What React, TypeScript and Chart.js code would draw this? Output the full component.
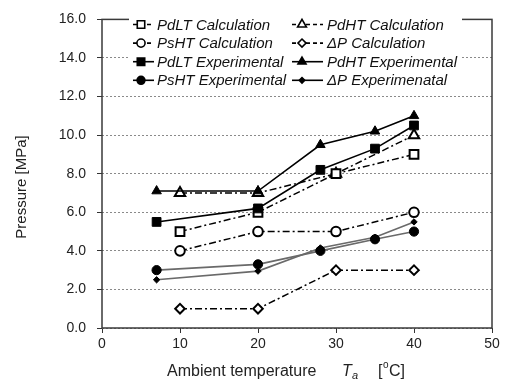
import React, { useEffect, useRef } from 'react';
import { Chart, registerables } from 'chart.js';
import { drawPoint } from 'chart.js/helpers';
Chart.register(...registerables);

const calcTemps = [10, 20, 30, 40];
const expTemps = [7, 20, 28, 35, 40];

const pdltCalc = [5.0, 6.0, 8.0, 9.0];
const pdhtCalc = [7.0, 7.0, 8.0, 10.0];
const pshtCalc = [4.0, 5.0, 5.0, 6.0];
const dpCalc = [1.0, 1.0, 3.0, 3.0];

const pdltExp = [5.5, 6.2, 8.2, 9.3, 10.5];
const pdhtExp = [7.1, 7.1, 9.5, 10.2, 11.0];
const pshtExp = [3.0, 3.3, 4.0, 4.6, 5.0];
const dpExp = [2.5, 2.95, 4.15, 4.7, 5.5];

const seriesLabels = [
  'PdLT Calculation', 'PdHT Calculation',
  'PsHT Calculation', 'ΔP Calculation',
  'PdLT Experimental', 'PdHT Experimental',
  'PsHT Experimental', 'ΔP Experimenatal',
];

const xTicks = [0, 10, 20, 30, 40, 50];
const yTicks = [0, 2, 4, 6, 8, 10, 12, 14, 16];

const FONT = '"Liberation Sans", Arial, sans-serif';
const DASH = [7, 3, 2, 3];

const pts = (xs: number[], ys: number[]) => xs.map((x, i) => ({ x, y: ys[i] }));

const frameAndLegend = {
  id: 'frameAndLegend',
  afterDraw(chart: any) {
    const { ctx, chartArea: a } = chart;
    ctx.save();
    // frame
    ctx.strokeStyle = '#3a3a3a';
    ctx.lineWidth = 1.5;
    ctx.setLineDash([]);
    ctx.strokeRect(a.left, a.top, a.right - a.left, a.bottom - a.top);

    // legend box
    ctx.fillStyle = '#ffffff';
    ctx.fillRect(129, 15, 333, 74);

    const ds = chart.data.datasets;
    const cols = [
      { x0: 133, xm: 141, x1: 154, xt: 157 },
      { x0: 292, xm: 302, x1: 323, xt: 327 },
    ];
    for (let i = 0; i < ds.length; i++) {
      const d = ds[i];
      const c = cols[i % 2];
      const y = 24.5 + Math.floor(i / 2) * 18.6;
      ctx.save();
      ctx.strokeStyle = '#000';
      ctx.lineWidth = 1.6;
      ctx.setLineDash(d.borderDash && d.borderDash.length ? [4, 3] : []);
      ctx.beginPath();
      ctx.moveTo(c.x0, y);
      ctx.lineTo(c.x1, y);
      ctx.stroke();
      ctx.setLineDash([]);
      ctx.fillStyle = d.pointBackgroundColor;
      ctx.strokeStyle = d.pointBorderColor;
      drawPoint(ctx, { pointStyle: d.pointStyle, radius: d.pointRadius * 0.85, rotation: 0, borderWidth: d.pointBorderWidth }, c.xm, y);
      ctx.restore();
      ctx.fillStyle = '#111';
      ctx.font = 'italic 15px ' + FONT;
      ctx.textBaseline = 'middle';
      ctx.textAlign = 'left';
      ctx.fillText(d.label, c.xt, y + 1);
    }

    // y title
    ctx.fillStyle = '#222';
    ctx.save();
    ctx.translate(22, 187);
    ctx.rotate(-Math.PI / 2);
    ctx.font = '15px ' + FONT;
    ctx.textAlign = 'center';
    ctx.textBaseline = 'middle';
    ctx.fillText('Pressure [MPa]', 0, 0);
    ctx.restore();

    // x title
    ctx.textBaseline = 'alphabetic';
    ctx.textAlign = 'left';
    const by = 376;
    ctx.font = '16px ' + FONT;
    ctx.fillText('Ambient temperature', 167, by);
    ctx.font = 'italic 16px ' + FONT;
    ctx.fillText('T', 342, by);
    ctx.font = 'italic 11px ' + FONT;
    ctx.fillText('a', 352, by + 3);
    ctx.font = '16px ' + FONT;
    ctx.fillText('[', 378, by);
    ctx.font = '10px ' + FONT;
    ctx.fillText('o', 383, by - 8);
    ctx.font = '16px ' + FONT;
    ctx.fillText('C]', 389, by);
    ctx.restore();
  },
};

export default function App() {
  const ref = useRef<HTMLCanvasElement>(null);
  useEffect(() => {
    if (!ref.current) return;
    const calc = (label: string, data: number[], style: string, r: number) => ({
      label,
      data: pts(calcTemps, data),
      borderColor: '#000',
      borderWidth: 1.5,
      borderDash: DASH,
      pointStyle: style,
      pointRadius: r,
      pointBackgroundColor: '#fff',
      pointBorderColor: '#000',
      pointBorderWidth: 2,
      order: 1,
    });
    const exp = (label: string, data: number[], style: string, r: number, line: string) => ({
      label,
      data: pts(expTemps, data),
      borderColor: line,
      borderWidth: 1.6,
      borderDash: [],
      pointStyle: style,
      pointRadius: r,
      pointBackgroundColor: '#000',
      pointBorderColor: '#000',
      pointBorderWidth: 1,
      order: 0,
    });
    const chart = new Chart(ref.current, {
      type: 'line',
      data: {
        datasets: [
          calc(seriesLabels[0], pdltCalc, 'rect', 6.2),
          calc(seriesLabels[1], pdhtCalc, 'triangle', 6),
          calc(seriesLabels[2], pshtCalc, 'circle', 4.8),
          calc(seriesLabels[3], dpCalc, 'rectRot', 4.8),
          exp(seriesLabels[4], pdltExp, 'rect', 6.2, '#000'),
          exp(seriesLabels[5], pdhtExp, 'triangle', 5.5, '#000'),
          exp(seriesLabels[6], pshtExp, 'circle', 4.6, '#6a6a6a'),
          exp(seriesLabels[7], dpExp, 'rectRot', 3.2, '#6a6a6a'),
        ] as any,
      },
      options: {
        animation: false,
        responsive: false,
        layout: { padding: { left: 0, right: 17, top: 13, bottom: 0 } },
        plugins: { legend: { display: false }, tooltip: { enabled: false } },
        elements: { line: { tension: 0 } },
        scales: {
          x: {
            type: 'linear',
            min: 0,
            max: 50,
            afterFit: (s: any) => { s.height = 57; },
            afterBuildTicks: (s: any) => { s.ticks = xTicks.map((v) => ({ value: v })); },
            ticks: { color: '#222', font: { family: FONT, size: 14 }, padding: 3, callback: (v: any) => String(v) },
            grid: { drawOnChartArea: false, drawTicks: true, tickLength: 5, tickColor: '#333', color: '#333' },
            border: { display: false },
          },
          y: {
            type: 'linear',
            min: 0,
            max: 16,
            afterFit: (s: any) => { s.width = 102; },
            afterBuildTicks: (s: any) => { s.ticks = yTicks.map((v) => ({ value: v })); },
            ticks: { color: '#222', font: { family: FONT, size: 14 }, padding: 11, callback: (v: any) => Number(v).toFixed(1) },
            grid: { color: '#8a8a8a', lineWidth: 1, drawTicks: true, tickLength: 5, tickColor: '#333', tickBorderDash: [] },
            border: { display: false, dash: [2, 2] },
          },
        },
      } as any,
      plugins: [frameAndLegend],
    });
    return () => chart.destroy();
  }, []);
  return (
    <div style={{ position: 'fixed', left: 0, top: 0, width: 509, height: 385, background: '#fff' }}>
      <canvas ref={ref} width={509} height={385} />
    </div>
  );
}
